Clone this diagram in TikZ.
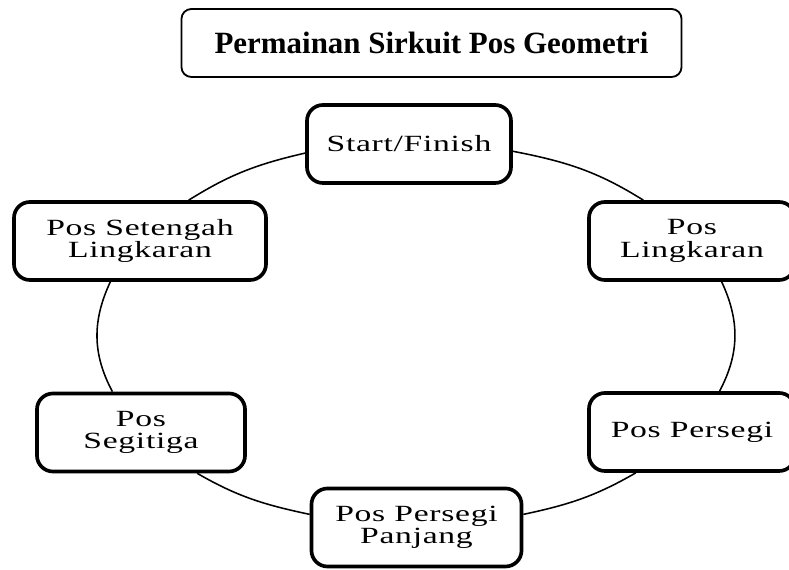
\documentclass[tikz,border=0pt]{standalone}
\usepackage{fontspec}
\setmainfont{Liberation Serif}
\newfontfamily\posfont[FakeStretch=1.45, LetterSpace=3]{Liberation Serif}
\usetikzlibrary{positioning}

\begin{document}
\begin{tikzpicture}[x = 0.025cm, y = 0.025cm,
  posbox/.style = {draw, line width = 2.6pt, rounded corners = 0.4cm, align = center,
    minimum height = 1.95cm, font = \posfont\fontsize{16.5}{16}\selectfont},
  ring/.style = {line width = 1.1pt}]
\useasboundingbox (0, 0) rectangle (789, 570);

\node[draw, line width = 1.3pt, rounded corners = 0.25cm, minimum width = 12.5cm, minimum height = 1.7cm,
  font = \bfseries\fontsize{22}{26}\selectfont] (title) at (431.5, 527) {Permainan Sirkuit Pos Geometri};

\node[posbox, minimum width = 5.1cm] (start) at (409, 426) {Start/Finish};
\node[posbox, minimum width = 6.3cm] (setengah) at (140, 329) {Pos Setengah\\Lingkaran};
\node[posbox, minimum width = 5.2cm] (segitiga) at (141, 137.5) {Pos\\Segitiga};
\node[posbox, minimum width = 5.25cm] (panjang) at (416.5, 42.5) {Pos Persegi\\Panjang};
\node[posbox, minimum width = 5.15cm] (persegi) at (692, 138) {Pos Persegi};
\node[posbox, minimum width = 5.15cm] (lingkaran) at (692, 329) {Pos\\Lingkaran};

\draw[ring] (start.185) to[out = 193, in = 32] (setengah.40);
\draw[ring] (setengah.234) to[out = 245, in = 118] (segitiga.125);
\draw[ring] (segitiga.324) to[out = 330, in = 168] (panjang.173);
\draw[ring] (panjang.7) to[out = 12, in = 210] (persegi.216);
\draw[ring] (persegi.56) to[out = 62, in = 295] (lingkaran.306);
\draw[ring] (lingkaran.140) to[out = 148, in = 349] (start.356);

\end{tikzpicture}
\end{document}
